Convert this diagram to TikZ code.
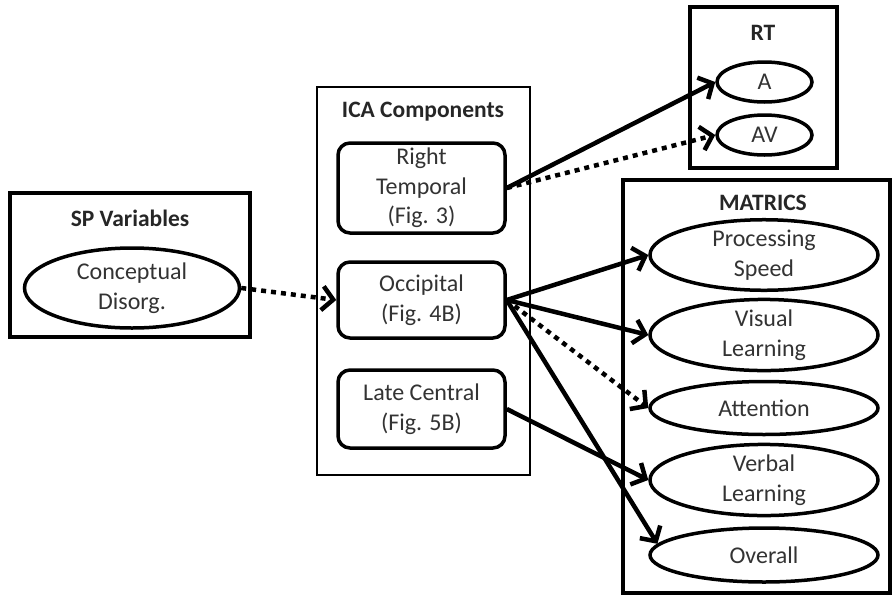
\documentclass[tikz,border=0pt]{standalone}
\usepackage{fontspec}
\setmainfont{Carlito}
\usetikzlibrary{arrows.meta,shapes.geometric}
\begin{document}
\begin{tikzpicture}[x=1pt,y=-1pt,
  every node/.style={font=\fontsize{24}{29.5}\selectfont, text=black!80, inner sep=0pt},
  group/.style={draw=black, line width=3.5pt, rectangle},
  title/.style={font=\fontsize{23.5}{29}\selectfont\bfseries, text=black!85},
  comp/.style={draw=black, line width=3.5pt, rounded corners=12pt, minimum width=167pt, align=center},
  var/.style={draw=black, line width=3.5pt, ellipse, align=center},
  solidarrow/.style={line width=4.5pt, -{Straight Barb[length=11pt,width=24pt]}},
  dotarrow/.style={line width=4.5pt, dash pattern=on 5pt off 5pt, -{Straight Barb[length=11pt,width=24pt]}}
]
\useasboundingbox (0,0) rectangle (894,595);
\fill[white] (0,0) rectangle (894,595);

% group boxes
\node[group, minimum width=240pt, minimum height=144pt] (spbox) at (130,265) {};
\node[group, line width=2pt, minimum width=213pt, minimum height=388pt] (icabox) at (423.5,281) {};
\node[group, minimum width=147pt, minimum height=161pt] (rtbox) at (763.5,87.5) {};
\node[group, minimum width=267pt, minimum height=413pt] (matbox) at (756.5,386.5) {};

% titles
\node[title] (sptitle) at (130,218) {SP Variables};
\node[title] (icatitle) at (423,112) {ICA Components};
\node[title] (rttitle) at (763,33) {RT};
\node[title] (mattitle) at (763,203) {MATRICS};

% SP variable
\node[var, minimum width=215pt, minimum height=80pt] (cd) at (132,288) {Conceptual\\Disorg.};

% ICA components
\node[comp, minimum height=90pt] (rtemp) at (421.5,188) {Right\\Temporal\\(Fig. 3)};
\node[comp, minimum height=76pt] (occ) at (421.5,300) {Occipital\\(Fig. 4B)};
\node[comp, minimum height=78pt] (lc) at (421.5,409) {Late Central\\(Fig. 5B)};

% RT
\node[var, minimum width=95pt, minimum height=40pt] (a) at (764.5,82) {A};
\node[var, minimum width=95pt, minimum height=40pt] (av) at (764.5,135) {AV};

% MATRICS
\node[var, minimum width=228pt, minimum height=64pt] (ps) at (764,255) {Processing\\Speed};
\node[var, minimum width=228pt, minimum height=66pt] (vl) at (764,335) {Visual\\Learning};
\node[var, minimum width=228pt, minimum height=53pt] (att) at (764,408) {Attention};
\node[var, minimum width=228pt, minimum height=65pt] (vb) at (764,480) {Verbal\\Learning};
\node[var, minimum width=228pt, minimum height=54pt] (ov) at (764,555) {Overall};

% connectors
\draw[dotarrow] (cd.east) -- (occ.west);
\draw[solidarrow] (rtemp.east) -- (a.west);
\draw[dotarrow] (rtemp.east) -- (av.west);
\draw[solidarrow] (occ.east) -- (ps.west);
\draw[solidarrow] (occ.east) -- (vl.west);
\draw[dotarrow] (occ.east) -- (att.west);
\draw[solidarrow] (occ.east) -- (ov.174);
\draw[solidarrow] (lc.east) -- (vb.west);
\end{tikzpicture}
\end{document}
